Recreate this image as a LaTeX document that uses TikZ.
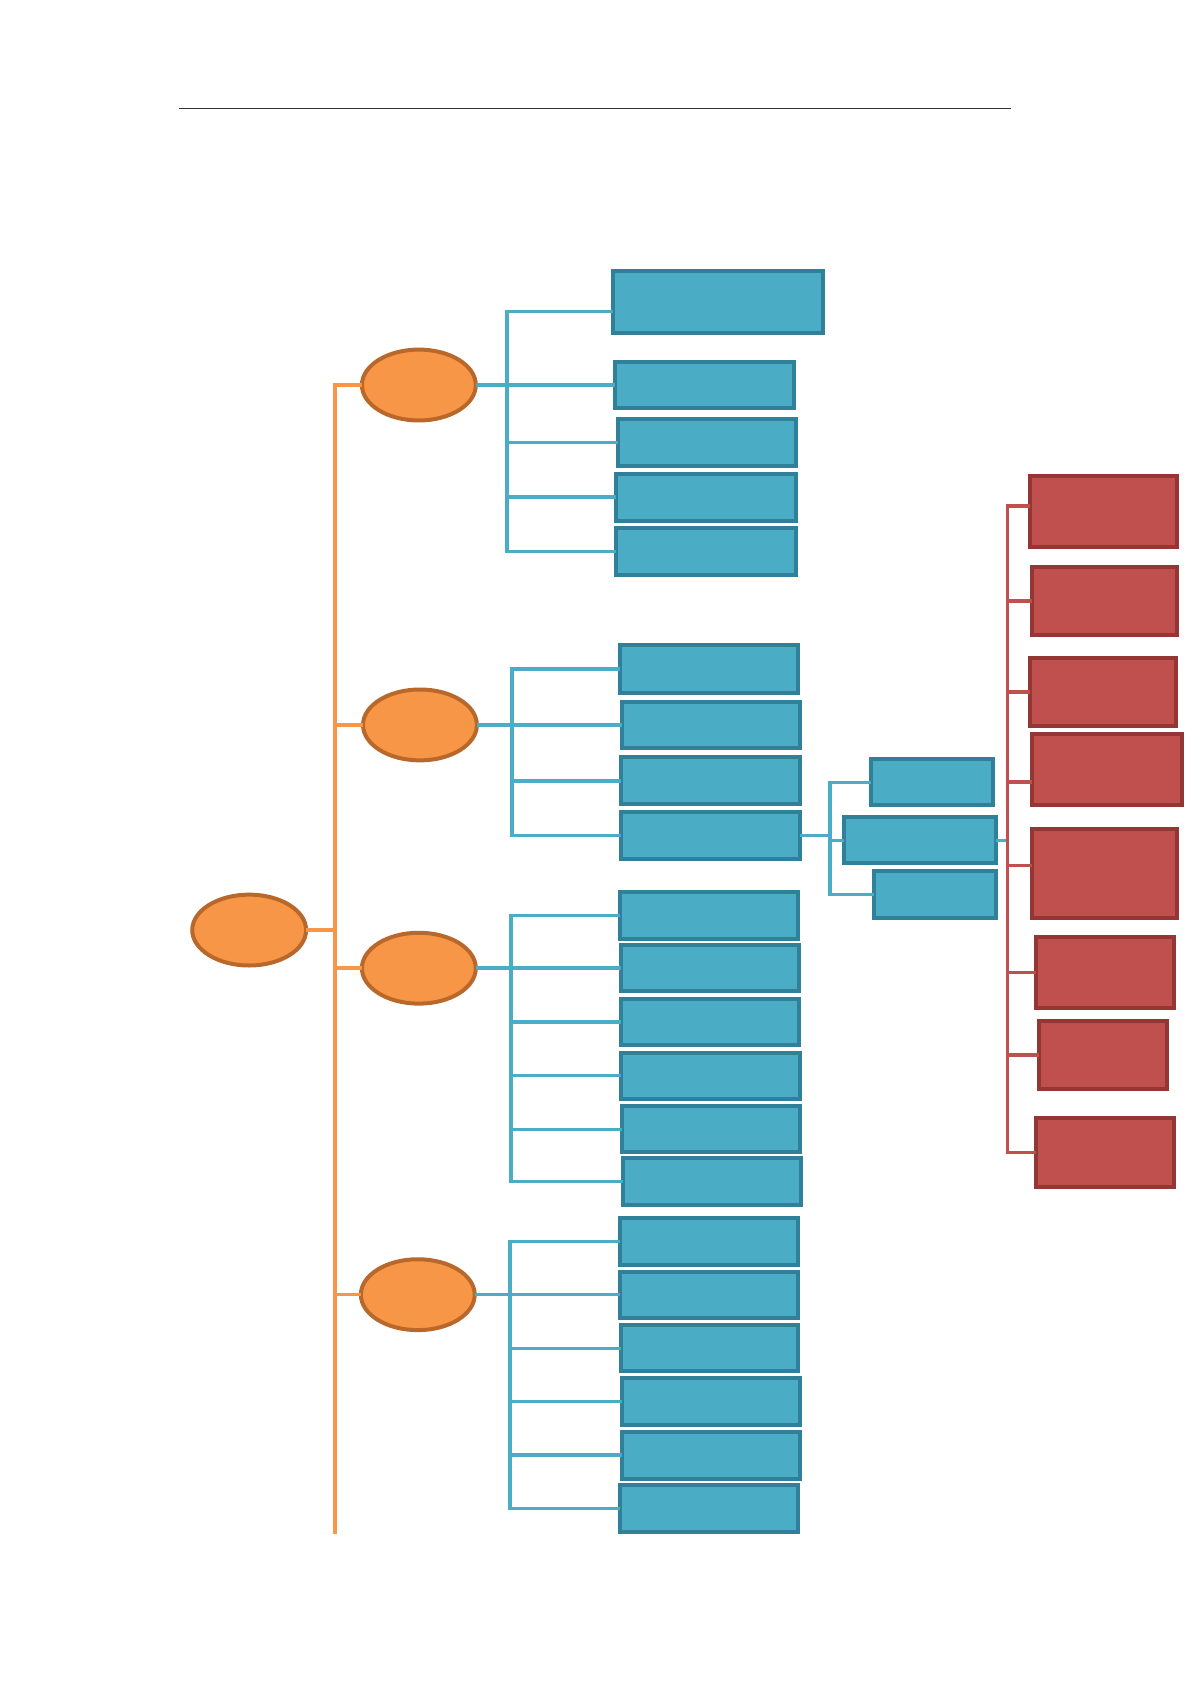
\documentclass[tikz,border=0pt]{standalone}
\usetikzlibrary{shapes.geometric,calc}
\definecolor{bluefill}{HTML}{4BACC6}
\definecolor{bluedark}{HTML}{31809A}
\definecolor{orfill}{HTML}{F79646}
\definecolor{ordark}{HTML}{B9682B}
\definecolor{redfill}{HTML}{C0504D}
\definecolor{reddark}{HTML}{943634}
\tikzset{
  bbox/.style={draw=bluedark, fill=bluefill, line width=2pt, inner sep=0pt, outer sep=0pt, rectangle},
  rbox/.style={draw=reddark, fill=redfill, line width=2pt, inner sep=0pt, outer sep=0pt, rectangle},
  obl/.style={ellipse, draw=ordark, fill=orfill, line width=2pt, inner sep=0pt, outer sep=0pt, minimum width=106*0.537pt, minimum height=66*0.537pt},
  bl/.style={draw=bluefill, line width=1.8pt},
  ol/.style={draw=orfill, line width=1.8pt},
  rl/.style={draw=redfill, line width=1.8pt},
  rule/.style={draw=black!80, line width=0.7pt}
}
\newcommand{\bx}[6]{\node[#1, minimum width=#4*0.537pt, minimum height=#5*0.537pt] (#6) at (#2,#3) {};}
\begin{document}
\begin{tikzpicture}[x=0.537pt, y=-0.537pt]
\useasboundingbox (0,0) rectangle (1109,1568);
% header rule
\coordinate (hl) at (167,101);
\coordinate (hr) at (941,101);
\draw[rule] (hl) -- (hr);

% orange nodes
\node[obl] (root) at (232,866) {};
\node[obl] (e1) at (390,358.5) {};
\node[obl] (e2) at (391,675) {};
\node[obl] (e3) at (390,901.5) {};
\node[obl] (e4) at (389,1205.5) {};

% blue boxes
\bx{bbox}{668.5}{281}{195}{58}{b11}
\bx{bbox}{656}{358.5}{166}{43}{b12}
\bx{bbox}{658}{412}{166}{44}{b13}
\bx{bbox}{657.5}{463}{167}{44}{b14}
\bx{bbox}{657.5}{513.5}{167}{43}{b15}
\bx{bbox}{660}{623}{166}{44}{b21}
\bx{bbox}{662}{675}{166}{43}{b22}
\bx{bbox}{661.5}{727}{167}{44}{b23}
\bx{bbox}{661.5}{778}{167}{44}{b24}
\bx{bbox}{660}{852.5}{166}{43}{b31}
\bx{bbox}{661}{901.5}{166}{43}{b32}
\bx{bbox}{661}{951.5}{166}{43}{b33}
\bx{bbox}{661.5}{1001.5}{167}{43}{b34}
\bx{bbox}{662}{1051.5}{166}{43}{b35}
\bx{bbox}{663}{1100}{166}{44}{b36}
\bx{bbox}{660}{1156}{166}{44}{b41}
\bx{bbox}{660}{1205.5}{166}{43}{b42}
\bx{bbox}{660.5}{1255.5}{165}{43}{b43}
\bx{bbox}{662}{1305}{166}{44}{b44}
\bx{bbox}{662}{1355}{166}{44}{b45}
\bx{bbox}{660}{1404.5}{166}{43}{b46}
\bx{bbox}{868}{728.5}{114}{43}{s1}
\bx{bbox}{856.5}{782.5}{141}{43}{s2}
\bx{bbox}{870.5}{833}{113}{44}{s3}

% red boxes
\bx{rbox}{1027.5}{476}{137}{66}{r1}
\bx{rbox}{1028.5}{559.5}{135}{63}{r2}
\bx{rbox}{1027}{644.5}{136}{63}{r3}
\bx{rbox}{1031}{716.5}{140}{67}{r4}
\bx{rbox}{1028.5}{813.5}{135}{83}{r5}
\bx{rbox}{1029}{905.5}{128}{67}{r6}
\bx{rbox}{1027}{982.5}{120}{63}{r7}
\bx{rbox}{1029}{1073}{128}{64}{r8}

% orange trunk
\coordinate (tr) at (312,866);
\coordinate (tend) at (312,1428);
\draw[ol] (root.east) -- (tr);
\draw[ol] (tr) |- (e1.west);
\draw[ol] (tr) |- (e2.west);
\draw[ol] (tr) |- (e3.west);
\draw[ol] (tr) |- (e4.west);
\draw[ol] (tr) -- (tend);

% blue group 1
\coordinate (j1) at (472,358.5);
\draw[bl] (e1.east) -- (j1);
\draw[bl] (j1) |- ($(b11.west)+(0,9)$);
\draw[bl] (j1) |- (b12.west);
\draw[bl] (j1) |- (b13.west);
\draw[bl] (j1) |- (b14.west);
\draw[bl] (j1) |- (b15.west);

% blue group 2
\coordinate (j2) at (477,675);
\draw[bl] (e2.east) -- (j2);
\draw[bl] (j2) |- (b21.west);
\draw[bl] (j2) |- (b22.west);
\draw[bl] (j2) |- (b23.west);
\draw[bl] (j2) |- (b24.west);

% blue group 3
\coordinate (j3) at (476,901.5);
\draw[bl] (e3.east) -- (j3);
\draw[bl] (j3) |- (b31.west);
\draw[bl] (j3) |- (b32.west);
\draw[bl] (j3) |- (b33.west);
\draw[bl] (j3) |- (b34.west);
\draw[bl] (j3) |- (b35.west);
\draw[bl] (j3) |- (b36.west);

% blue group 4
\coordinate (j4) at (475,1205.5);
\draw[bl] (e4.east) -- (j4);
\draw[bl] (j4) |- (b41.west);
\draw[bl] (j4) |- (b42.west);
\draw[bl] (j4) |- (b43.west);
\draw[bl] (j4) |- (b44.west);
\draw[bl] (j4) |- (b45.west);
\draw[bl] (j4) |- (b46.west);

% sub group
\coordinate (sj) at (773,778);
\draw[bl] (b24.east) -- (sj);
\draw[bl] (sj) |- (s1.west);
\draw[bl] (sj) |- (s2.west);
\draw[bl] (sj) |- (s3.west);

% red group
\coordinate (rj) at (938,782.5);
\draw[bl] (s2.east) -- (rj);
\draw[rl] (rj) |- ($(r1.west)+(0,-5)$);
\draw[rl] (rj) |- (r2.west);
\draw[rl] (rj) |- (r3.west);
\draw[rl] (rj) |- ($(r4.west)+(0,11.5)$);
\draw[rl] (rj) |- ($(r5.west)+(0,-7.5)$);
\draw[rl] (rj) |- (r6.west);
\draw[rl] (rj) |- (r7.west);
\draw[rl] (rj) |- (r8.west);
\end{tikzpicture}
\end{document}
